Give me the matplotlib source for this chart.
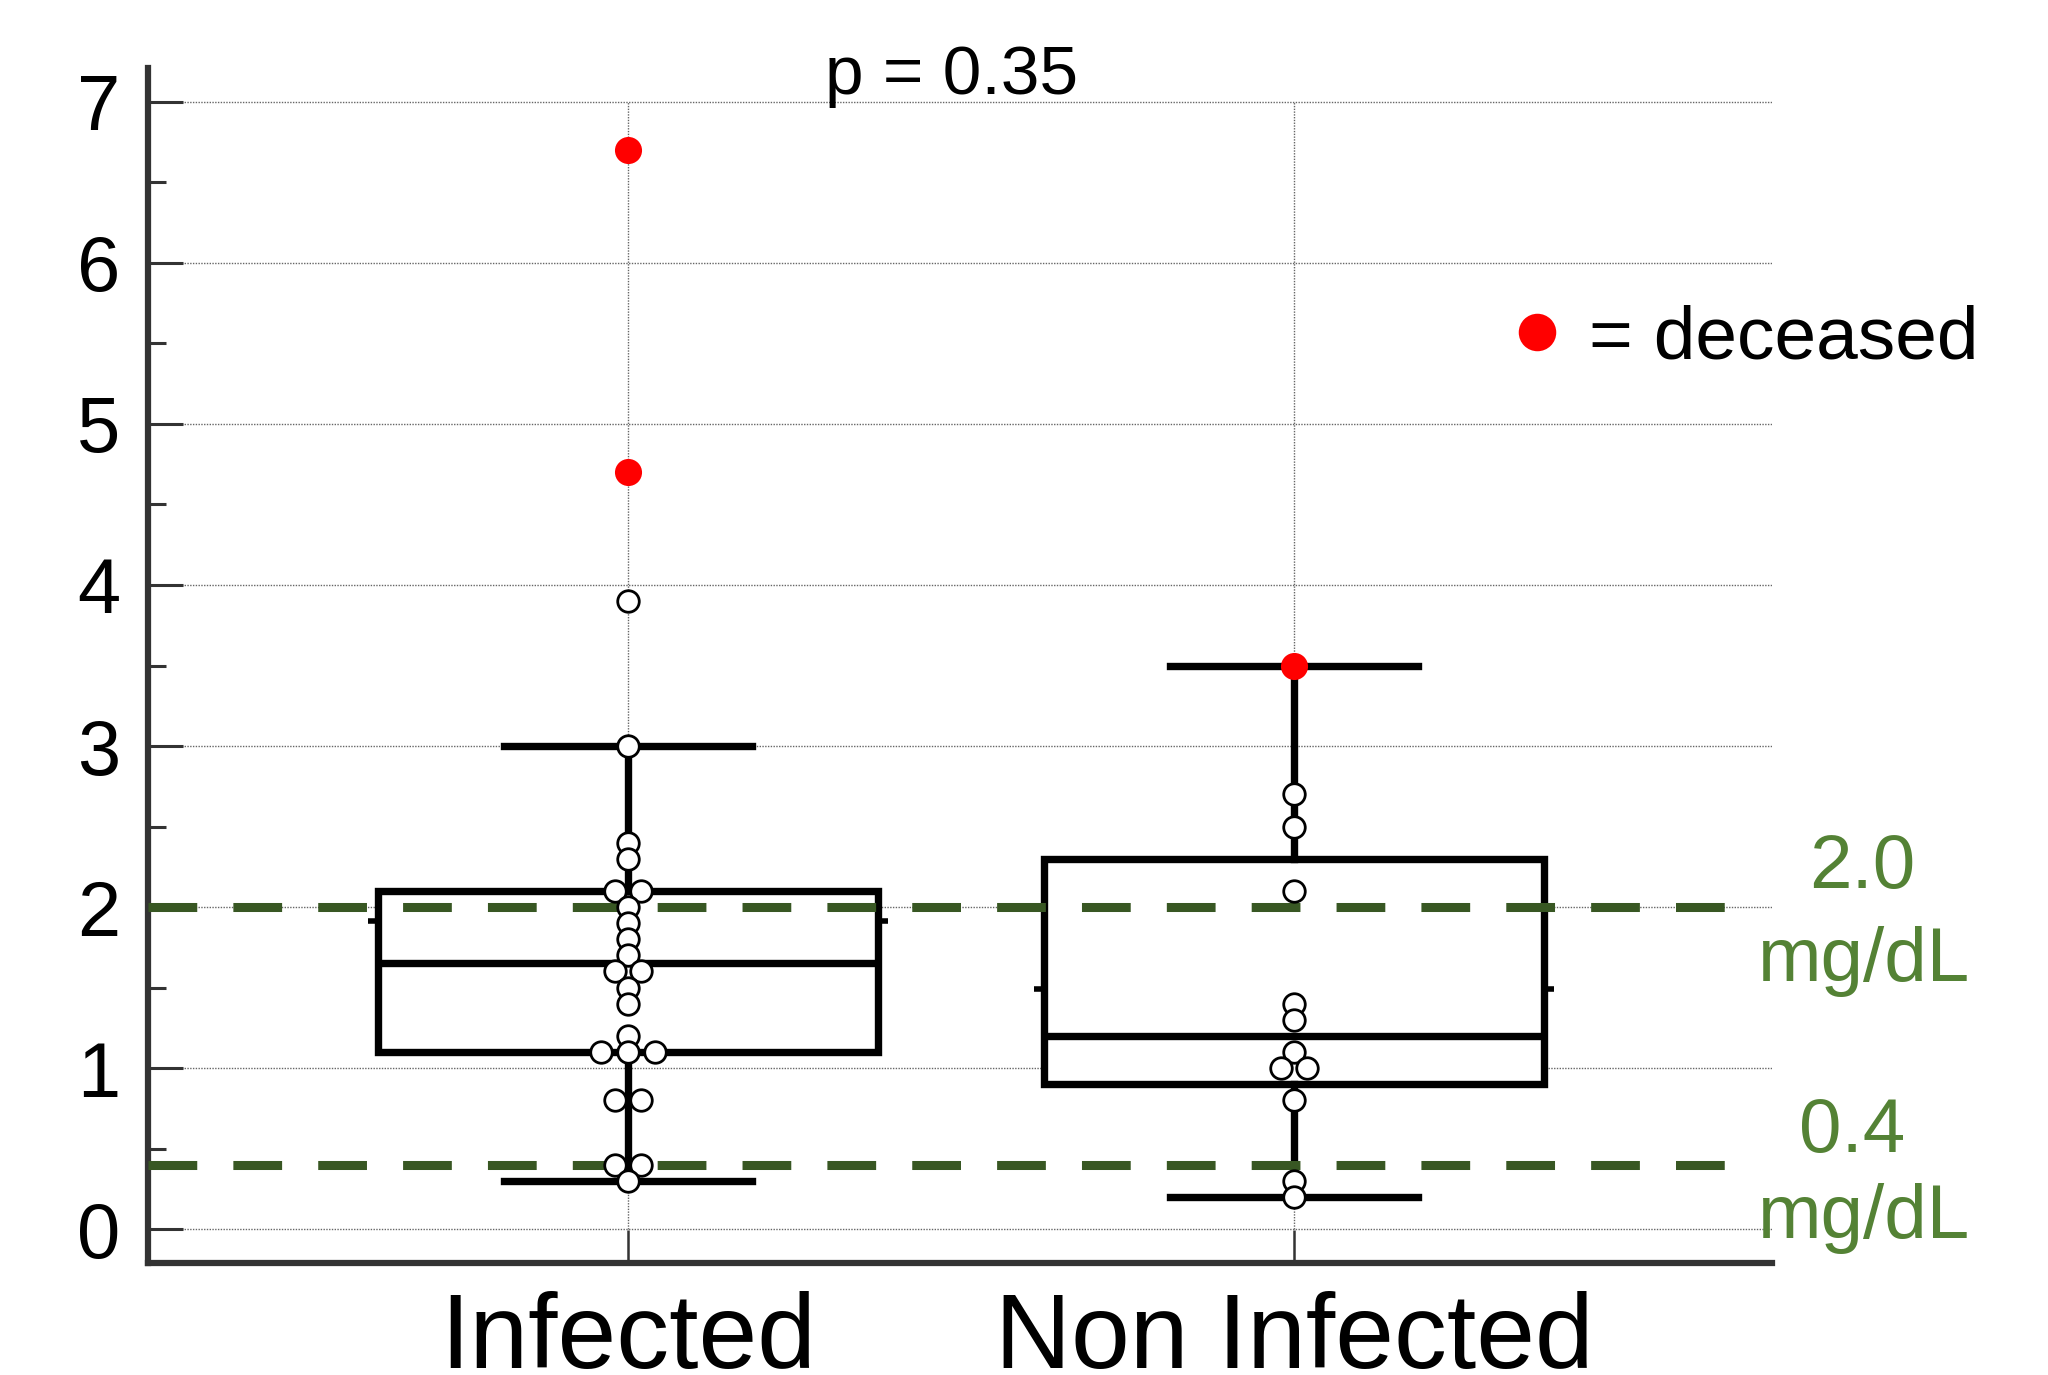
import numpy as np
import matplotlib
matplotlib.use("Agg")
import matplotlib.pyplot as plt
from matplotlib.lines import Line2D

# ---------------- data ----------------
categories = ["Infected", "Non Infected"]
infected_values = [6.7, 4.7, 3.9, 3.0, 2.4, 2.3, 2.1, 2.1, 2.0, 1.9, 1.8, 1.7,
                   1.6, 1.6, 1.5, 1.4, 1.2, 1.1, 1.1, 1.1, 0.8, 0.8, 0.4, 0.4, 0.3]
infected_deceased = [True, True] + [False] * 23
noninf_values = [3.5, 2.7, 2.5, 2.1, 1.4, 1.3, 1.1, 1.0, 1.0, 0.8, 0.3, 0.2]
noninf_deceased = [True] + [False] * 11

# box statistics
box_q1 = [1.1, 0.9]
box_median = [1.65, 1.2]
box_q3 = [2.1, 2.3]
box_whislo = [0.3, 0.2]
box_whishi = [3.0, 3.5]

ref_levels = [2.0, 0.4]
ref_labels = [("2.0", "mg/dL"), ("0.4", "mg/dL")]
p_text = "p = 0.35"
yticks = [0, 1, 2, 3, 4, 5, 6, 7]

# ---------------- style ----------------
plt.rcParams['font.family'] = ['Liberation Sans', 'DejaVu Sans']
DPI = 100
fig = plt.figure(figsize=(20.48, 13.75), dpi=DPI)
ax = fig.add_axes([148 / 2048, 112 / 1375, (1772 - 148) / 2048, (1263 - 68) / 1375])

dark_green = '#385723'
light_green = '#548235'
spine_col = '#333333'

positions = [1, 2]
box_w = 0.75
cap_w = 0.372

# grid
ax.set_axisbelow(True)
ax.yaxis.grid(True, linestyle=(0, (1, 1)), color='#666666', linewidth=1.0, zorder=0)
ax.vlines(positions, min(yticks), max(yticks), linestyles=(0, (1, 1)),
          colors='#666666', linewidth=1.0, zorder=0)

# boxes
stats = []
for i in range(2):
    stats.append(dict(med=box_median[i], q1=box_q1[i], q3=box_q3[i],
                      whislo=box_whislo[i], whishi=box_whishi[i], fliers=[]))
lw_box = 5.3
ax.bxp(stats, positions=positions, widths=box_w, capwidths=cap_w,
       patch_artist=True, showfliers=False,
       boxprops=dict(facecolor='white', edgecolor='black', linewidth=lw_box),
       medianprops=dict(color='black', linewidth=lw_box),
       whiskerprops=dict(color='black', linewidth=lw_box),
       capprops=dict(color='black', linewidth=lw_box),
       zorder=2)

# mean stubs just outside the box sides
for pos, vals in zip(positions, [infected_values, noninf_values]):
    m = np.mean(vals)
    stub = 0.015
    for side in (-1, 1):
        edge = pos + side * box_w / 2
        ax.plot([edge, edge + side * stub], [m, m], color='black',
                linewidth=4, solid_capstyle='butt', zorder=2)

# reference dashed lines
for lvl in ref_levels:
    ax.axhline(lvl, xmin=0, xmax=(1748 - 148) / (1772 - 148), color=dark_green,
               linewidth=6.5, dashes=(5.4, 4.0), zorder=3)

# swarm-like points
d = 0.040
def swarm_offsets(vals):
    vals = np.asarray(vals)
    offs = np.zeros(len(vals))
    for v in np.unique(vals):
        idx = np.where(np.isclose(vals, v))[0]
        n = len(idx)
        offs[idx] = (np.arange(n) - (n - 1) / 2) * d
    return offs

for pos, vals, dec in zip(positions, [infected_values, noninf_values],
                          [infected_deceased, noninf_deceased]):
    vals = np.asarray(vals)
    dec = np.asarray(dec)
    xs = pos + swarm_offsets(vals)
    alive = ~dec
    ax.plot(xs[alive], vals[alive], 'o', markersize=15.5, markerfacecolor='white',
            markeredgecolor='black', markeredgewidth=2.0, linestyle='none', zorder=4)
    ax.plot(xs[dec], vals[dec], 'o', markersize=19.5, markerfacecolor='red',
            markeredgecolor='red', markeredgewidth=0, linestyle='none', zorder=5)

# axes
ax.set_xlim(0.279, 2.718)
ax.set_ylim(-0.21, 7.21)
ax.set_yticks(yticks)
ax.set_yticks(np.arange(0.5, 7, 1), minor=True)
ax.set_xticks(positions)
ax.set_xticklabels(categories)
ax.tick_params(axis='y', which='major', direction='in', length=25, width=2.2,
               color=spine_col, labelsize=56, pad=20)
ax.tick_params(axis='y', which='minor', direction='in', length=13, width=2.2,
               color=spine_col)
ax.tick_params(axis='x', which='major', direction='in', length=24, width=1.8,
               color=spine_col, labelsize=76, pad=20)
for s in ['top', 'right']:
    ax.spines[s].set_visible(False)
for s in ['left', 'bottom']:
    ax.spines[s].set_color(spine_col)
    ax.spines[s].set_linewidth(4.5)

# p value
ax.text(1.486, 7.05, p_text, ha='center', va='baseline', fontsize=50,
        clip_on=False)

# legend
handle = Line2D([], [], marker='o', linestyle='none', markersize=27,
                markerfacecolor='red', markeredgecolor='red', markeredgewidth=0)
ax.legend([handle], ['= deceased'], loc='center left',
          bbox_to_anchor=((1518 - 148) / (1772 - 148), (1263 - 339) / (1263 - 68)),
          frameon=False, fontsize=54, handlelength=0.5, handletextpad=0.45,
          borderpad=0, borderaxespad=0)

# reference labels
label_pos = [((2.854, 2.12), (2.856, 1.54)), ((2.839, 0.48), (2.856, -0.056))]
for (t1, t2), ((x1, y1), (x2, y2)) in zip(ref_labels, label_pos):
    ax.text(x1, y1, t1, ha='center', va='baseline', fontsize=55,
            color=light_green, clip_on=False)
    ax.text(x2, y2, t2, ha='center', va='baseline', fontsize=55,
            color=light_green, clip_on=False)

fig.savefig('out.png', dpi=DPI)
